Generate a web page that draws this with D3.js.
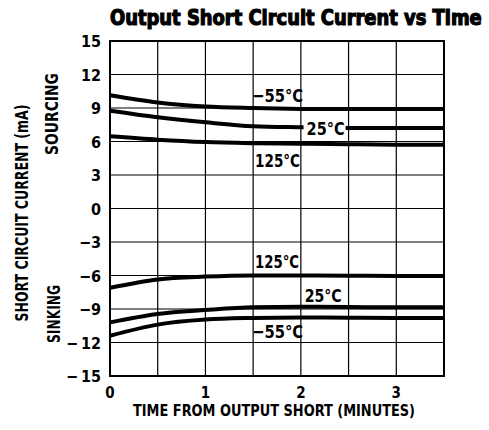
<!DOCTYPE html>
<html>
<head>
<meta charset="utf-8">
<script src="https://cdn.jsdelivr.net/npm/d3@7"></script>
<style>
  body { margin: 0; background: #fff; }
  text { font-family: "Liberation Sans Narrow", "DejaVu Sans Condensed", sans-serif; font-weight: bold; fill: #000; }
</style>
</head>
<body>
<svg id="chart" width="489" height="430"></svg>
<script>
// time axis (minutes) and the three temperature curves, sourcing and sinking
const times = [0, 0.5, 1, 1.5, 2, 2.5, 3, 3.5];

const srcM55 = [10.15, 9.5, 9.14, 9.0, 8.92, 8.9, 8.9, 8.9];
const src25 = [8.75, 8.17, 7.72, 7.37, 7.28, 7.22, 7.2, 7.2];
const src125 = [6.46, 6.16, 5.95, 5.85, 5.8, 5.75, 5.72, 5.72];

const snk125 = [-7.1, -6.35, -6.1, -6.0, -6.0, -6.02, -6.05, -6.05];
const snk25 = [-10.2, -9.45, -9.1, -8.85, -8.8, -8.82, -8.85, -8.85];
const snkM55 = [-11.4, -10.4, -9.95, -9.8, -9.75, -9.78, -9.8, -9.8];

const yTicks = [15, 12, 9, 6, 3, 0, -3, -6, -9, -12, -15];
const yTickLabels = ["15", "12", "9", "6", "3", "0", "\u22123", "\u22126", "\u22129", "\u2212\u200912", "\u2212\u200915"];
const xTicks = [0, 1, 2, 3];
const xGrid = [0.5, 1, 1.5, 2, 2.5, 3];

// curve labels: text, time and current where the label starts (baseline)
const curveLabels = [
  { text: "\u221255\u00b0C", t: 1.49, v: 9.54, w: 51 },
  { text: "25\u00b0C", t: 2.06, v: 6.58, w: 38, knockout: true },
  { text: "125\u00b0C", t: 1.52, v: 3.72, w: 45 },
  { text: "125\u00b0C", t: 1.52, v: -5.33, w: 44 },
  { text: "25\u00b0C", t: 2.04, v: -8.37, w: 37 },
  { text: "\u221255\u00b0C", t: 1.49, v: -11.6, w: 51 }
];

const svg = d3.select("#chart");
const plotL = 110, plotR = 444, plotT = 41, plotB = 376;

const x = d3.scaleLinear().domain([0, 3.5]).range([plotL, plotR]);
const y = d3.scaleLinear().domain([-15, 15]).range([plotB, plotT]);

// grid
svg.append("g")
  .selectAll("line").data(xGrid).enter().append("line")
  .attr("x1", d => x(d)).attr("x2", d => x(d))
  .attr("y1", plotT).attr("y2", plotB)
  .attr("stroke", "#000").attr("stroke-width", 1.2);

svg.append("g")
  .selectAll("line").data(yTicks.slice(1, -1)).enter().append("line")
  .attr("x1", plotL).attr("x2", plotR)
  .attr("y1", d => y(d)).attr("y2", d => y(d))
  .attr("stroke", "#000").attr("stroke-width", 1.2);

svg.append("rect")
  .attr("x", plotL).attr("y", plotT)
  .attr("width", plotR - plotL).attr("height", plotB - plotT)
  .attr("fill", "none").attr("stroke", "#000").attr("stroke-width", 2);

// curves
const line = d3.line()
  .x((d, i) => x(times[i]))
  .y(d => y(d))
  .curve(d3.curveMonotoneX);

[srcM55, src25, src125, snk125, snk25, snkM55].forEach(s => {
  svg.append("path")
    .attr("d", line(s))
    .attr("fill", "none")
    .attr("stroke", "#000")
    .attr("stroke-width", 4);
});

// curve labels
curveLabels.forEach(l => {
  if (l.knockout) {
    svg.append("rect")
      .attr("x", x(l.t) - 3).attr("y", y(l.v) - 16)
      .attr("width", l.w + 4).attr("height", 19)
      .attr("fill", "#fff");
  }
  svg.append("text")
    .attr("x", x(l.t)).attr("y", y(l.v))
    .attr("textLength", l.w).attr("lengthAdjust", "spacingAndGlyphs")
    .style("font-size", "18px")
    .text(l.text);
});

// y tick labels
svg.append("g")
  .selectAll("text").data(yTicks).enter().append("text")
  .attr("x", 101)
  .attr("y", d => y(d) + 6)
  .attr("text-anchor", "end")
  .style("font-size", "16px")
  .text((d, i) => yTickLabels[i]);

// x tick labels
svg.append("g")
  .selectAll("text").data(xTicks).enter().append("text")
  .attr("x", d => x(d))
  .attr("y", 398)
  .attr("text-anchor", "middle")
  .style("font-size", "15px")
  .text(d => d);

// title: squeeze horizontally to fit the plot width
const title = svg.append("text")
  .style("font-size", "22px")
  .attr("stroke", "#000").attr("stroke-width", 1.2)
  .text("Output Short Circuit Current vs Time");
const titleW = title.node().getComputedTextLength();
title.attr("transform", "translate(110,25) scale(" + (372 / titleW) + ",1)");

svg.append("text")
  .attr("x", 274).attr("y", 416)
  .attr("text-anchor", "middle")
  .attr("textLength", 282).attr("lengthAdjust", "spacingAndGlyphs")
  .style("font-size", "15px")
  .text("TIME FROM OUTPUT SHORT (MINUTES)");

svg.append("text")
  .attr("transform", "translate(28,213) rotate(-90)")
  .attr("text-anchor", "middle")
  .attr("textLength", 217).attr("lengthAdjust", "spacingAndGlyphs")
  .style("font-size", "17px")
  .text("SHORT CIRCUIT CURRENT (mA)");

svg.append("text")
  .attr("transform", "translate(58,114) rotate(-90)")
  .attr("text-anchor", "middle")
  .attr("textLength", 82).attr("lengthAdjust", "spacingAndGlyphs")
  .style("font-size", "17px")
  .text("SOURCING");

svg.append("text")
  .attr("transform", "translate(60,314) rotate(-90)")
  .attr("text-anchor", "middle")
  .attr("textLength", 58).attr("lengthAdjust", "spacingAndGlyphs")
  .style("font-size", "17px")
  .text("SINKING");
</script>
</body>
</html>
